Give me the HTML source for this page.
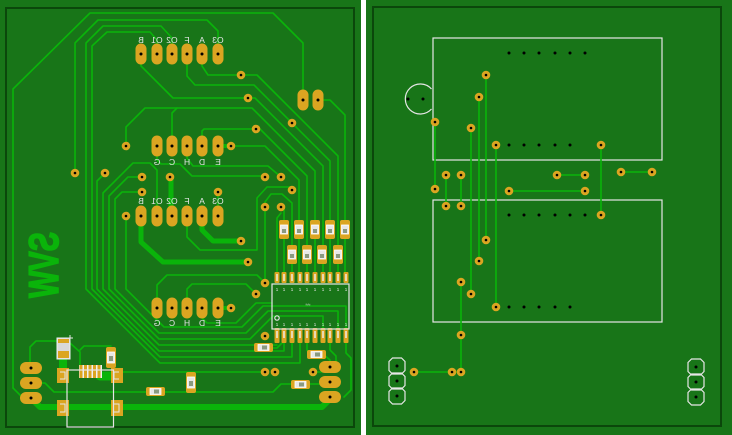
<!DOCTYPE html>
<html><head><meta charset="utf-8"><style>
html,body{margin:0;padding:0;background:#187518;}
body{width:732px;height:435px;overflow:hidden;}
svg{display:block;}
.t{fill:none;stroke:#0ab40a;stroke-width:1.6;stroke-linejoin:round;stroke-linecap:round;}
.k{fill:none;stroke:#0ab40a;stroke-width:5;stroke-linejoin:round;stroke-linecap:round;}
.g{fill:#dba521;}
.h{fill:#000;}
.s{fill:none;stroke:#e6e6e6;stroke-width:1.2;}
.lb{font-family:"Liberation Sans",sans-serif;font-size:8.5px;fill:#e6e6e6;text-anchor:middle;}
.pn{font-family:"Liberation Sans",sans-serif;font-size:4.5px;fill:#e6e6e6;text-anchor:middle;}
</style></head><body>
<svg width="732" height="435" viewBox="0 0 732 435" xmlns="http://www.w3.org/2000/svg">
<rect x="0" y="0" width="732" height="435" fill="#187518"/>
<rect x="361" y="0" width="5" height="435" fill="#ffffff"/>
<!-- board outlines -->
<rect x="6" y="8" width="348" height="419" fill="none" stroke="#0b470b" stroke-width="2"/>
<rect x="373" y="7" width="348" height="419" fill="none" stroke="#0b470b" stroke-width="2"/>

<!-- ================= LEFT BOARD ================= -->
<!-- copper text -->
<text transform="translate(58,232) rotate(90) scale(1,-1)" font-family="Liberation Sans, sans-serif" font-weight="bold" font-size="42" fill="#0ab40a" stroke="#0ab40a" stroke-width="1.6" textLength="66" lengthAdjust="spacingAndGlyphs">SVW</text>

<!-- thin traces -->
<path class="t" d="M13,388 L13,89 L90,13 L273,13 L303,43 L303,100"/>
<path class="t" d="M13,388 L27,402"/>
<path class="t" d="M75,173 L75,43 L98,20 L207,20 L218,31 L218,54"/>
<!-- bundle -->
<path class="t" d="M172,54 L172,38 L161,26 L103,26 L86,43 L86,289 L160,363 L300,363 L300,343"/>
<path class="t" d="M157,54 L157,40 L150,32 L107,32 L92,46 L92,289 L160,357 L292,357 L292,343"/>
<path class="t" d="M105,173 L97,181 L97,289 L159,351 L284,351 L284,343"/>
<path class="t" d="M157,216 L157,170 L150,163 L133,163 L103,193 L103,289 L159,345 L277,345"/>
<path class="t" d="M142,177 L128,177 L109,196 L109,289 L159,339 L250,339 L273,316 L323,316 L323,328"/>
<path class="t" d="M142,192 L122,192 L115,199 L115,289 L159,333 L246,333 L268,311 L338,311 L338,328"/>
<path class="t" d="M126,216 L126,289 L164,327 L242,327 L263,306 L346,306 L346,328"/>
<!-- top header to IC -->
<path class="t" d="M202,54 L202,66 L208,75 L257,75 L338,156 L338,272"/>
<path class="t" d="M187,54 L187,76 L195,85 L254,85 L330,161 L330,272"/>
<path class="t" d="M141,54 L141,66 L173,98 L255,98 L323,166 L323,272"/>
<path class="t" d="M318,100 L330,100 L345,115 L345,272"/>
<path class="t" d="M126,146 L126,127 L145,108 L252,108 L315,171 L315,272"/>
<path class="t" d="M172,146 L172,113 L177,108"/>
<path class="t" d="M202,146 L202,131 L204,129 L260,129 L307,176 L307,272"/>
<path class="t" d="M231,146 L265,146 L299,180 L299,272"/>
<path class="t" d="M187,146 L187,158 L193,166 L268,166 L281,177"/>
<path class="t" d="M157,146 L157,160 L161,164 L180,164 L192,176 L265,176"/>
<path class="t" d="M187,216 L187,237 L200,250 L257,250 L257,198 L267,187 L290,187"/>
<path class="t" d="M265,283 L265,202 L271,194 L282,194 L292,203 L292,272"/>
<path class="t" d="M281,207 L284,210 L284,272"/>
<path class="t" d="M277,272 L277,218 L281,213"/>
<path class="t" d="M218,216 L218,192"/>
<!-- row 4 -->
<path class="t" d="M157,298 L157,285 L167,275 L257,275 L265,283"/>
<path class="t" d="M187,298 L187,289 L192,284 L246,284 L256,294"/>
<path class="t" d="M202,308 L202,318 L207,323 L236,323 L256,303 L272,303"/>
<!-- bottom -->
<path class="t" d="M31,383 L45,383 L54,392 L147,392"/>
<path class="t" d="M164,392 L273,392 L281,384 L292,384"/>
<path class="t" d="M310,384 L320,384 L323,382 L330,382"/>
<path class="t" d="M116,372 L265,372"/>
<path class="t" d="M30,366 L30,347 L36,341 L57,341"/>
<path class="t" d="M70,343 L80,352 L80,368"/>
<path class="t" d="M80,350 L84,346 L111,346"/>
<path class="t" d="M346,343 L346,353 L351,358 L351,390 L344,397"/>
<path class="t" d="M323,354 L330,360 L330,367"/>
<path class="t" d="M307,343 L307,350 L309,354"/>
<path class="t" d="M271,348 L277,348 L284,341"/>
<path class="t" d="M330,343 L330,350 L336,356 L336,362"/>
<path class="t" d="M313,372 L322,372"/>

<!-- thick traces -->
<path class="k" d="M141,216 L141,242 L163,262 L248,262"/>
<path class="k" d="M202,216 L202,230 L213,241 L241,241"/>
<path class="k" d="M171,178 L171,212"/>
<path class="k" d="M218,146 L231,146" style="stroke-width:4"/>
<path class="k" d="M218,308 L231,308" style="stroke-width:4"/>
<path class="k" d="M31,398 L40,407 L322,407 L330,399" style="stroke-width:6"/>
<path class="k" d="M63,356 L63,376" style="stroke-width:8"/>
<path class="k" d="M100,376 L116,376" style="stroke-width:9"/>

<!-- vertical oval pads -->
<g class="g">
<rect x="135.5" y="43.5" width="11" height="21" rx="5.5"/><rect x="151.5" y="43.5" width="11" height="21" rx="5.5"/><rect x="166.5" y="43.5" width="11" height="21" rx="5.5"/><rect x="181.5" y="43.5" width="11" height="21" rx="5.5"/><rect x="196.5" y="43.5" width="11" height="21" rx="5.5"/><rect x="212.5" y="43.5" width="11" height="21" rx="5.5"/>
<rect x="151.5" y="135.5" width="11" height="21" rx="5.5"/><rect x="166.5" y="135.5" width="11" height="21" rx="5.5"/><rect x="181.5" y="135.5" width="11" height="21" rx="5.5"/><rect x="196.5" y="135.5" width="11" height="21" rx="5.5"/><rect x="212.5" y="135.5" width="11" height="21" rx="5.5"/>
<rect x="135.5" y="205.5" width="11" height="21" rx="5.5"/><rect x="151.5" y="205.5" width="11" height="21" rx="5.5"/><rect x="166.5" y="205.5" width="11" height="21" rx="5.5"/><rect x="181.5" y="205.5" width="11" height="21" rx="5.5"/><rect x="196.5" y="205.5" width="11" height="21" rx="5.5"/><rect x="212.5" y="205.5" width="11" height="21" rx="5.5"/>
<rect x="151.5" y="297.5" width="11" height="21" rx="5.5"/><rect x="166.5" y="297.5" width="11" height="21" rx="5.5"/><rect x="181.5" y="297.5" width="11" height="21" rx="5.5"/><rect x="196.5" y="297.5" width="11" height="21" rx="5.5"/><rect x="212.5" y="297.5" width="11" height="21" rx="5.5"/>
<rect x="297.5" y="89.5" width="11" height="21" rx="5.5"/><rect x="312.5" y="89.5" width="11" height="21" rx="5.5"/>
<!-- horizontal big pads -->
<rect x="20" y="362" width="22" height="12" rx="6"/><rect x="20" y="377" width="22" height="12" rx="6"/><rect x="20" y="392" width="22" height="12" rx="6"/>
<rect x="319" y="361" width="22" height="12" rx="6"/><rect x="319" y="376" width="22" height="12" rx="6"/><rect x="319" y="391" width="22" height="12" rx="6"/>
</g>
<g class="h">
<circle cx="141" cy="54" r="1.5"/><circle cx="157" cy="54" r="1.5"/><circle cx="172" cy="54" r="1.5"/><circle cx="187" cy="54" r="1.5"/><circle cx="202" cy="54" r="1.5"/><circle cx="218" cy="54" r="1.5"/>
<circle cx="157" cy="146" r="1.5"/><circle cx="172" cy="146" r="1.5"/><circle cx="187" cy="146" r="1.5"/><circle cx="202" cy="146" r="1.5"/><circle cx="218" cy="146" r="1.5"/>
<circle cx="141" cy="216" r="1.5"/><circle cx="157" cy="216" r="1.5"/><circle cx="172" cy="216" r="1.5"/><circle cx="187" cy="216" r="1.5"/><circle cx="202" cy="216" r="1.5"/><circle cx="218" cy="216" r="1.5"/>
<circle cx="157" cy="308" r="1.5"/><circle cx="172" cy="308" r="1.5"/><circle cx="187" cy="308" r="1.5"/><circle cx="202" cy="308" r="1.5"/><circle cx="218" cy="308" r="1.5"/>
<circle cx="303" cy="100" r="1.5"/><circle cx="318" cy="100" r="1.5"/>
<circle cx="31" cy="368" r="1.5"/><circle cx="31" cy="383" r="1.5"/><circle cx="31" cy="398" r="1.5"/>
<circle cx="330" cy="367" r="1.5"/><circle cx="330" cy="382" r="1.5"/><circle cx="330" cy="397" r="1.5"/>
</g>

<!-- header labels (mirrored) -->
<text class="lb" transform="translate(141,43) scale(-1,1)">B</text>
<text class="lb" transform="translate(157,43) scale(-1,1)">O1</text>
<text class="lb" transform="translate(172,43) scale(-1,1)">O2</text>
<text class="lb" transform="translate(187,43) scale(-1,1)">F</text>
<text class="lb" transform="translate(202,43) scale(-1,1)">A</text>
<text class="lb" transform="translate(218,43) scale(-1,1)">O3</text>
<text class="lb" transform="translate(157,165) scale(-1,1)">G</text>
<text class="lb" transform="translate(172,165) scale(-1,1)">C</text>
<text class="lb" transform="translate(187,165) scale(-1,1)">H</text>
<text class="lb" transform="translate(202,165) scale(-1,1)">D</text>
<text class="lb" transform="translate(218,165) scale(-1,1)">E</text>
<text class="lb" transform="translate(141,204) scale(-1,1)">B</text>
<text class="lb" transform="translate(157,204) scale(-1,1)">O1</text>
<text class="lb" transform="translate(172,204) scale(-1,1)">O2</text>
<text class="lb" transform="translate(187,204) scale(-1,1)">F</text>
<text class="lb" transform="translate(202,204) scale(-1,1)">A</text>
<text class="lb" transform="translate(218,204) scale(-1,1)">O3</text>
<text class="lb" transform="translate(157,326) scale(-1,1)">G</text>
<text class="lb" transform="translate(172,326) scale(-1,1)">C</text>
<text class="lb" transform="translate(187,326) scale(-1,1)">H</text>
<text class="lb" transform="translate(202,326) scale(-1,1)">D</text>
<text class="lb" transform="translate(218,326) scale(-1,1)">E</text>

<!-- vias left -->
<g class="g">
<circle cx="241" cy="75" r="4.3"/><circle cx="248" cy="98" r="4.3"/><circle cx="292" cy="123" r="4.3"/><circle cx="256" cy="129" r="4.3"/>
<circle cx="126" cy="146" r="4.3"/><circle cx="231" cy="146" r="4.3"/><circle cx="75" cy="173" r="4.3"/><circle cx="105" cy="173" r="4.3"/>
<circle cx="142" cy="177" r="4.3"/><circle cx="170" cy="177" r="4.3"/><circle cx="265" cy="177" r="4.3"/><circle cx="281" cy="177" r="4.3"/>
<circle cx="142" cy="192" r="4.3"/><circle cx="218" cy="192" r="4.3"/><circle cx="292" cy="190" r="4.3"/><circle cx="265" cy="207" r="4.3"/>
<circle cx="281" cy="207" r="4.3"/><circle cx="126" cy="216" r="4.3"/><circle cx="241" cy="241" r="4.3"/><circle cx="248" cy="262" r="4.3"/>
<circle cx="265" cy="283" r="4.3"/><circle cx="256" cy="294" r="4.3"/><circle cx="231" cy="308" r="4.3"/><circle cx="265" cy="336" r="4.3"/>
<circle cx="265" cy="372" r="4.3"/><circle cx="275" cy="372" r="4.3"/><circle cx="313" cy="372" r="4.3"/>
</g>
<g class="h">
<circle cx="241" cy="75" r="1.3"/><circle cx="248" cy="98" r="1.3"/><circle cx="292" cy="123" r="1.3"/><circle cx="256" cy="129" r="1.3"/>
<circle cx="126" cy="146" r="1.3"/><circle cx="231" cy="146" r="1.3"/><circle cx="75" cy="173" r="1.3"/><circle cx="105" cy="173" r="1.3"/>
<circle cx="142" cy="177" r="1.3"/><circle cx="170" cy="177" r="1.3"/><circle cx="265" cy="177" r="1.3"/><circle cx="281" cy="177" r="1.3"/>
<circle cx="142" cy="192" r="1.3"/><circle cx="218" cy="192" r="1.3"/><circle cx="292" cy="190" r="1.3"/><circle cx="265" cy="207" r="1.3"/>
<circle cx="281" cy="207" r="1.3"/><circle cx="126" cy="216" r="1.3"/><circle cx="241" cy="241" r="1.3"/><circle cx="248" cy="262" r="1.3"/>
<circle cx="265" cy="283" r="1.3"/><circle cx="256" cy="294" r="1.3"/><circle cx="231" cy="308" r="1.3"/><circle cx="265" cy="336" r="1.3"/>
<circle cx="265" cy="372" r="1.3"/><circle cx="275" cy="372" r="1.3"/><circle cx="313" cy="372" r="1.3"/>
</g>

<!-- SMD resistors vertical (row1, row2) -->
<g>
<rect class="g" x="279" y="220" width="10" height="19" rx="2"/><rect x="280.5" y="225" width="7" height="9" fill="#e8e8e8" stroke="#fff" stroke-width="0.8"/><rect x="282" y="229" width="4" height="4" fill="#8a9a80"/>
<rect class="g" x="294" y="220" width="10" height="19" rx="2"/><rect x="295.5" y="225" width="7" height="9" fill="#e8e8e8" stroke="#fff" stroke-width="0.8"/><rect x="297" y="229" width="4" height="4" fill="#8a9a80"/>
<rect class="g" x="310" y="220" width="10" height="19" rx="2"/><rect x="311.5" y="225" width="7" height="9" fill="#e8e8e8" stroke="#fff" stroke-width="0.8"/><rect x="313" y="229" width="4" height="4" fill="#8a9a80"/>
<rect class="g" x="325" y="220" width="10" height="19" rx="2"/><rect x="326.5" y="225" width="7" height="9" fill="#e8e8e8" stroke="#fff" stroke-width="0.8"/><rect x="328" y="229" width="4" height="4" fill="#8a9a80"/>
<rect class="g" x="340" y="220" width="10" height="19" rx="2"/><rect x="341.5" y="225" width="7" height="9" fill="#e8e8e8" stroke="#fff" stroke-width="0.8"/><rect x="343" y="229" width="4" height="4" fill="#8a9a80"/>
<rect class="g" x="287" y="245" width="10" height="19" rx="2"/><rect x="288.5" y="250" width="7" height="9" fill="#e8e8e8" stroke="#fff" stroke-width="0.8"/><rect x="290" y="254" width="4" height="4" fill="#8a9a80"/>
<rect class="g" x="302" y="245" width="10" height="19" rx="2"/><rect x="303.5" y="250" width="7" height="9" fill="#e8e8e8" stroke="#fff" stroke-width="0.8"/><rect x="305" y="254" width="4" height="4" fill="#8a9a80"/>
<rect class="g" x="317" y="245" width="10" height="19" rx="2"/><rect x="318.5" y="250" width="7" height="9" fill="#e8e8e8" stroke="#fff" stroke-width="0.8"/><rect x="320" y="254" width="4" height="4" fill="#8a9a80"/>
<rect class="g" x="333" y="245" width="10" height="19" rx="2"/><rect x="334.5" y="250" width="7" height="9" fill="#e8e8e8" stroke="#fff" stroke-width="0.8"/><rect x="336" y="254" width="4" height="4" fill="#8a9a80"/>
</g>

<!-- IC pins -->
<g class="g">
<rect x="274.5" y="272" width="5" height="11" rx="1"/><rect x="281.5" y="272" width="5" height="11" rx="1"/><rect x="289.5" y="272" width="5" height="11" rx="1"/><rect x="297.5" y="272" width="5" height="11" rx="1"/><rect x="304.5" y="272" width="5" height="11" rx="1"/><rect x="312.5" y="272" width="5" height="11" rx="1"/><rect x="320.5" y="272" width="5" height="11" rx="1"/><rect x="327.5" y="272" width="5" height="11" rx="1"/><rect x="335.5" y="272" width="5" height="11" rx="1"/><rect x="343.5" y="272" width="5" height="11" rx="1"/>
<rect x="274.5" y="328" width="5" height="15" rx="1"/><rect x="281.5" y="328" width="5" height="15" rx="1"/><rect x="289.5" y="328" width="5" height="15" rx="1"/><rect x="297.5" y="328" width="5" height="15" rx="1"/><rect x="304.5" y="328" width="5" height="15" rx="1"/><rect x="312.5" y="328" width="5" height="15" rx="1"/><rect x="320.5" y="328" width="5" height="15" rx="1"/><rect x="327.5" y="328" width="5" height="15" rx="1"/><rect x="335.5" y="328" width="5" height="15" rx="1"/><rect x="343.5" y="328" width="5" height="15" rx="1"/>
</g>
<g fill="#f0f0f0">
<rect x="276.3" y="274" width="1.4" height="7"/><rect x="283.3" y="274" width="1.4" height="7"/><rect x="291.3" y="274" width="1.4" height="7"/><rect x="299.3" y="274" width="1.4" height="7"/><rect x="306.3" y="274" width="1.4" height="7"/><rect x="314.3" y="274" width="1.4" height="7"/><rect x="322.3" y="274" width="1.4" height="7"/><rect x="329.3" y="274" width="1.4" height="7"/><rect x="337.3" y="274" width="1.4" height="7"/><rect x="345.3" y="274" width="1.4" height="7"/>
<rect x="276.3" y="331" width="1.4" height="7"/><rect x="283.3" y="331" width="1.4" height="7"/><rect x="291.3" y="331" width="1.4" height="7"/><rect x="299.3" y="331" width="1.4" height="7"/><rect x="306.3" y="331" width="1.4" height="7"/><rect x="314.3" y="331" width="1.4" height="7"/><rect x="322.3" y="331" width="1.4" height="7"/><rect x="329.3" y="331" width="1.4" height="7"/><rect x="337.3" y="331" width="1.4" height="7"/><rect x="345.3" y="331" width="1.4" height="7"/>
</g>
<rect class="s" x="272" y="284" width="77" height="45"/>
<circle cx="277" cy="318" r="2.2" class="s"/>
<g class="pn">
<text x="277" y="291">1</text><text x="284" y="291">1</text><text x="292" y="291">1</text><text x="300" y="291">1</text><text x="307" y="291">1</text><text x="315" y="291">1</text><text x="323" y="291">1</text><text x="330" y="291">1</text><text x="338" y="291">1</text><text x="346" y="291">1</text>
<text x="277" y="326">1</text><text x="284" y="326">1</text><text x="292" y="326">1</text><text x="300" y="326">1</text><text x="307" y="326">1</text><text x="315" y="326">1</text><text x="323" y="326">1</text><text x="330" y="326">1</text><text x="338" y="326">1</text><text x="346" y="326">1</text>
<text x="308" y="306">≈≈</text>
</g>

<!-- other SMD parts -->
<g>
<rect class="g" x="254" y="343" width="19" height="9" rx="2"/><rect x="258" y="344.5" width="11" height="6" fill="#e8e8e8" stroke="#fff" stroke-width="0.8"/><rect x="262" y="345.5" width="5" height="4" fill="#8a9a80"/>
<rect class="g" x="307" y="350" width="19" height="9" rx="2"/><rect x="311" y="351.5" width="11" height="6" fill="#e8e8e8" stroke="#fff" stroke-width="0.8"/><rect x="315" y="352.5" width="5" height="4" fill="#8a9a80"/>
<rect class="g" x="291" y="380" width="19" height="9" rx="2"/><rect x="295" y="381.5" width="11" height="6" fill="#e8e8e8" stroke="#fff" stroke-width="0.8"/><rect x="299" y="382.5" width="5" height="4" fill="#8a9a80"/>
<rect class="g" x="146" y="387" width="19" height="9" rx="2"/><rect x="150" y="388.5" width="11" height="6" fill="#e8e8e8" stroke="#fff" stroke-width="0.8"/><rect x="154" y="389.5" width="5" height="4" fill="#8a9a80"/>
<rect class="g" x="186" y="372" width="10" height="21" rx="2"/><rect x="187.5" y="377" width="7" height="11" fill="#e8e8e8" stroke="#fff" stroke-width="0.8"/><rect x="189" y="381" width="4" height="5" fill="#8a9a80"/>
<rect class="g" x="106" y="347" width="10" height="21" rx="2"/><rect x="107.5" y="352" width="7" height="11" fill="#e8e8e8" stroke="#fff" stroke-width="0.8"/><rect x="109" y="356" width="4" height="5" fill="#8a9a80"/>
</g>
<!-- capacitor -->
<rect x="57" y="338" width="13" height="21" fill="#d8d8d8" stroke="#f0f0f0" stroke-width="1"/>
<rect class="g" x="58" y="339" width="11" height="4"/>
<rect class="g" x="58" y="351" width="11" height="7"/>
<path d="M67,338 L73,338 M70,335 L70,341" stroke="#e6e6e6" stroke-width="1" fill="none"/>
<!-- USB connector -->
<g class="g">
<rect x="57" y="368" width="12" height="15"/><rect x="111" y="368" width="12" height="15"/>
<rect x="57" y="400" width="12" height="16"/><rect x="111" y="400" width="12" height="16"/>
</g>
<path d="M60,372 L65,372 L65,379 L60,379 M114,404 L119,404 L119,412 L114,412 M60,404 L65,404 L65,412 L60,412 M119,372 L114,372 L114,379 L119,379" stroke="#e6e6e6" stroke-width="1" fill="none"/>
<rect x="79" y="365" width="23" height="13" fill="#f0f0f0"/>
<g class="g">
<rect x="79.5" y="365" width="3" height="13"/><rect x="84" y="365" width="3" height="13"/><rect x="88.5" y="365" width="3" height="13"/><rect x="93" y="365" width="3" height="13"/><rect x="97.5" y="365" width="3" height="13"/>
</g>
<rect class="s" x="67" y="370" width="46.5" height="57"/>

<!-- ================= RIGHT BOARD ================= -->
<rect class="s" x="433" y="38" width="229" height="122"/>
<rect class="s" x="433" y="200" width="229" height="122"/>
<path d="M431.5,89 A15,15 0 1 0 431.5,109" class="s"/>
<g class="t">
<path d="M435,122 L435,189"/>
<path d="M446,175 L446,206"/><path d="M461,175 L461,206"/>
<path d="M471,128 L471,294"/>
<path d="M479,97 L479,261"/>
<path d="M486,75 L486,240"/>
<path d="M496,145 L496,307"/>
<path d="M601,145 L601,215"/>
<path d="M509,191 L585,191"/>
<path d="M557,175 L585,175"/>
<path d="M621,172 L652,172"/>
<path d="M461,282 L461,372"/>
<path d="M414,372 L461,372"/>
</g>
<g class="h">
<circle cx="408" cy="99" r="1.5"/><circle cx="423" cy="99" r="1.5"/>
<circle cx="509" cy="53" r="1.5"/><circle cx="524" cy="53" r="1.5"/><circle cx="539" cy="53" r="1.5"/><circle cx="555" cy="53" r="1.5"/><circle cx="570" cy="53" r="1.5"/><circle cx="585" cy="53" r="1.5"/>
<circle cx="509" cy="145" r="1.5"/><circle cx="524" cy="145" r="1.5"/><circle cx="539" cy="145" r="1.5"/><circle cx="555" cy="145" r="1.5"/><circle cx="570" cy="145" r="1.5"/>
<circle cx="509" cy="215" r="1.5"/><circle cx="524" cy="215" r="1.5"/><circle cx="539" cy="215" r="1.5"/><circle cx="555" cy="215" r="1.5"/><circle cx="570" cy="215" r="1.5"/><circle cx="585" cy="215" r="1.5"/>
<circle cx="509" cy="307" r="1.5"/><circle cx="524" cy="307" r="1.5"/><circle cx="539" cy="307" r="1.5"/><circle cx="555" cy="307" r="1.5"/><circle cx="570" cy="307" r="1.5"/>
</g>
<g class="g">
<circle cx="486" cy="75" r="4.3"/><circle cx="479" cy="97" r="4.3"/><circle cx="435" cy="122" r="4.3"/><circle cx="471" cy="128" r="4.3"/>
<circle cx="496" cy="145" r="4.3"/><circle cx="601" cy="145" r="4.3"/><circle cx="446" cy="175" r="4.3"/><circle cx="461" cy="175" r="4.3"/>
<circle cx="435" cy="189" r="4.3"/><circle cx="557" cy="175" r="4.3"/><circle cx="585" cy="175" r="4.3"/><circle cx="621" cy="172" r="4.3"/>
<circle cx="652" cy="172" r="4.3"/><circle cx="509" cy="191" r="4.3"/><circle cx="585" cy="191" r="4.3"/><circle cx="446" cy="206" r="4.3"/>
<circle cx="461" cy="206" r="4.3"/><circle cx="601" cy="215" r="4.3"/><circle cx="486" cy="240" r="4.3"/><circle cx="479" cy="261" r="4.3"/>
<circle cx="461" cy="282" r="4.3"/><circle cx="471" cy="294" r="4.3"/><circle cx="496" cy="307" r="4.3"/><circle cx="461" cy="335" r="4.3"/>
<circle cx="414" cy="372" r="4.3"/><circle cx="452" cy="372" r="4.3"/><circle cx="461" cy="372" r="4.3"/>
</g>
<g class="h">
<circle cx="486" cy="75" r="1.3"/><circle cx="479" cy="97" r="1.3"/><circle cx="435" cy="122" r="1.3"/><circle cx="471" cy="128" r="1.3"/>
<circle cx="496" cy="145" r="1.3"/><circle cx="601" cy="145" r="1.3"/><circle cx="446" cy="175" r="1.3"/><circle cx="461" cy="175" r="1.3"/>
<circle cx="435" cy="189" r="1.3"/><circle cx="557" cy="175" r="1.3"/><circle cx="585" cy="175" r="1.3"/><circle cx="621" cy="172" r="1.3"/>
<circle cx="652" cy="172" r="1.3"/><circle cx="509" cy="191" r="1.3"/><circle cx="585" cy="191" r="1.3"/><circle cx="446" cy="206" r="1.3"/>
<circle cx="461" cy="206" r="1.3"/><circle cx="601" cy="215" r="1.3"/><circle cx="486" cy="240" r="1.3"/><circle cx="479" cy="261" r="1.3"/>
<circle cx="461" cy="282" r="1.3"/><circle cx="471" cy="294" r="1.3"/><circle cx="496" cy="307" r="1.3"/><circle cx="461" cy="335" r="1.3"/>
<circle cx="414" cy="372" r="1.3"/><circle cx="452" cy="372" r="1.3"/><circle cx="461" cy="372" r="1.3"/>
</g>
<!-- octagon headers -->
<g class="s">
<polygon points="392.5,358 401.5,358 405,361.5 405,370.5 401.5,374 392.5,374 389,370.5 389,361.5"/>
<polygon points="392.5,373 401.5,373 405,376.5 405,385.5 401.5,389 392.5,389 389,385.5 389,376.5"/>
<polygon points="392.5,388 401.5,388 405,391.5 405,400.5 401.5,404 392.5,404 389,400.5 389,391.5"/>
<polygon points="691.5,359 700.5,359 704,362.5 704,371.5 700.5,375 691.5,375 688,371.5 688,362.5"/>
<polygon points="691.5,374 700.5,374 704,377.5 704,386.5 700.5,390 691.5,390 688,386.5 688,377.5"/>
<polygon points="691.5,389 700.5,389 704,392.5 704,401.5 700.5,405 691.5,405 688,401.5 688,392.5"/>
</g>
<g class="h">
<circle cx="397" cy="366" r="1.5"/><circle cx="397" cy="381" r="1.5"/><circle cx="397" cy="396" r="1.5"/>
<circle cx="696" cy="367" r="1.5"/><circle cx="696" cy="382" r="1.5"/><circle cx="696" cy="397" r="1.5"/>
</g>
</svg>
</body></html>
